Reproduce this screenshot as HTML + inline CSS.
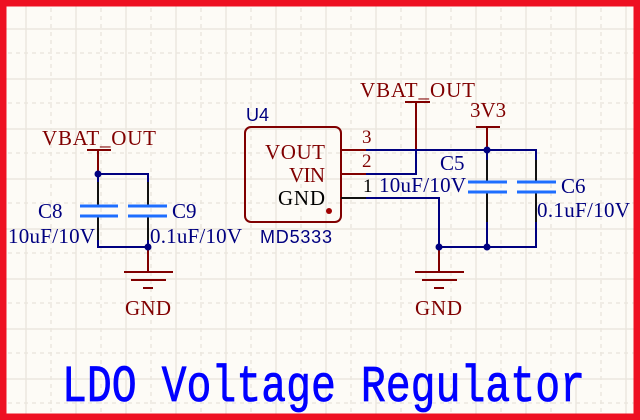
<!DOCTYPE html>
<html><head><meta charset="utf-8"><style>
html,body{margin:0;padding:0;background:#fdfbf6;}
svg{display:block}
</style></head><body>
<svg width="640" height="420" viewBox="0 0 640 420" xmlns="http://www.w3.org/2000/svg">
<rect width="640" height="420" fill="#fdfbf6"/>
<g stroke="#ebe7df" stroke-width="1.5">
<path d="M26 0V420M76 0V420M126 0V420M176 0V420M226 0V420M276 0V420M326 0V420M376 0V420M426 0V420M476 0V420M526 0V420M576 0V420M626 0V420"/>
<path d="M0 29H640M0 79H640M0 129H640M0 179H640M0 229H640M0 279H640M0 329H640M0 379H640"/>
<path stroke-dasharray="4 4" d="M51 0V420M101 0V420M151 0V420M201 0V420M251 0V420M301 0V420M351 0V420M401 0V420M451 0V420M501 0V420M551 0V420M601 0V420"/>
<path stroke-dasharray="4 4" d="M0 53H640M0 103H640M0 153H640M0 203H640M0 253H640M0 303H640M0 353H640M0 403H640"/>
</g>
<path d="M3 3H637V417H3Z" fill="none" stroke="#ee1122" stroke-width="7"/>
<path d="M635 0V420" stroke="#ee1122" stroke-width="2"/>

<g font-family="Liberation Serif, serif" font-size="21" fill="#800000">
<text x="42" y="145" textLength="114">VBAT_OUT</text>
<text x="125" y="315" textLength="46">GND</text>
<text x="360" y="97" textLength="115">VBAT_OUT</text>
<text x="470" y="117">3V3</text>
<text x="415" y="315" textLength="47">GND</text>
<text x="265" y="159" textLength="60">VOUT</text>
<text x="289" y="182" textLength="36">VIN</text>
<text x="362" y="143" font-size="19">3</text>
<text x="362" y="167" font-size="19">2</text>
</g>
<g font-family="Liberation Serif, serif" font-size="21" fill="#000080">
<text x="38" y="218">C8</text>
<text x="8" y="243" textLength="87">10uF/10V</text>
<text x="172" y="218">C9</text>
<text x="150" y="243" textLength="92">0.1uF/10V</text>
<text x="440" y="170">C5</text>
<text x="379" y="192" textLength="87">10uF/10V</text>
<text x="561" y="193">C6</text>
<text x="537" y="217" textLength="93">0.1uF/10V</text>
</g>
<text x="278" y="205" font-family="Liberation Serif, serif" font-size="21" fill="#000" textLength="47">GND</text>
<text x="363" y="192" font-family="Liberation Serif, serif" font-size="19" fill="#000">1</text>
<g font-family="Liberation Sans, sans-serif" font-size="18" fill="#000080">
<text x="246" y="121" textLength="23">U4</text>
<text x="260" y="243" textLength="72">MD5333</text>
</g>

<rect x="245" y="127" width="96" height="95" rx="6" fill="none" stroke="#800000" stroke-width="2"/>
<circle cx="329" cy="211" r="3" fill="#a00000"/>

<g stroke="#800000" stroke-width="2" fill="none">
<path d="M87 150H111M98 150V174"/>
<path d="M405 102H430M416 102V150"/>
<path d="M476 127H500M487 127V150"/>
<path d="M148 247V272M124 272H173M131 280H166M143 288H153"/>
<path d="M439 247V272M415 272H464M422 280H457M434 288H444"/>
<path d="M341 150H366M341 174H366"/>
</g>
<path d="M341 198H366" stroke="#111" stroke-width="2"/>

<g stroke="#000080" stroke-width="2" fill="none">
<path d="M98 174H148V200M98 174V200"/>
<path d="M98 222V247H148V222"/>
<path d="M366 150H536V176"/>
<path d="M366 174H416V150"/>
<path d="M366 198H439V247H536V222"/>
<path d="M487 150V176M487 222V247"/>
</g>
<g stroke="#111" stroke-width="2">
<path d="M98 182V206M148 182V206M98 216V240M148 216V240"/>
<path d="M487 160V182M536 160V182M487 192V222M536 192V222"/>
</g>
<g stroke="#1e6eff" stroke-width="3">
<path d="M80 206H118M80 216H118M128 206H167M128 216H167"/>
<path d="M468 182H507M468 192H507M517 182H556M517 192H556"/>
</g>
<g fill="#000080">
<circle cx="98" cy="174" r="3.5"/><circle cx="148" cy="247" r="3.5"/>
<circle cx="487" cy="150" r="3.5"/><circle cx="487" cy="247" r="3.5"/><circle cx="439" cy="247" r="3.5"/>
</g>

<text x="62" y="320.8" font-family="Liberation Mono, monospace" font-size="41.5" fill="#0000ff" stroke="#0000ff" stroke-width="0.6" textLength="523" transform="scale(1,1.25)">LDO Voltage Regulator</text>
</svg>
</body></html>
